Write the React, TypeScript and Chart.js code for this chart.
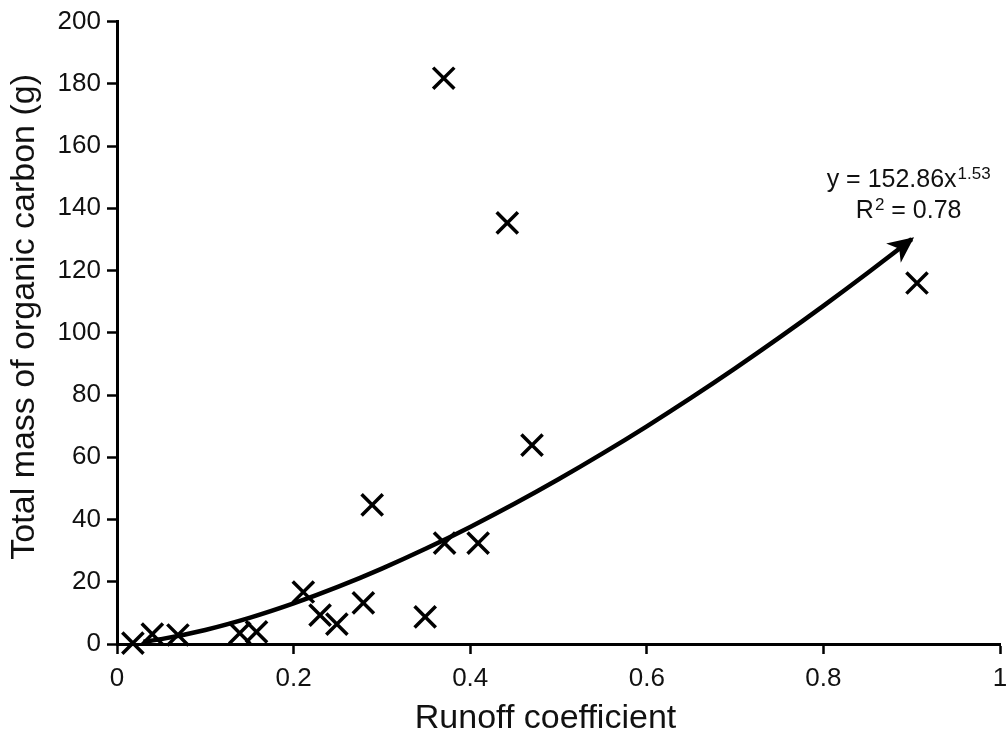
import React, { useEffect, useRef } from "react";
import { Chart, registerables } from "chart.js";

Chart.register(...registerables);

// Observed points: runoff coefficient vs total mass of organic carbon (g)
const runoffCoefficient = [0.018, 0.04, 0.069, 0.139, 0.158, 0.211, 0.23, 0.249, 0.279, 0.289, 0.349, 0.371, 0.409, 0.47, 0.37, 0.442, 0.906];
const organicCarbon = [0.3, 3.2, 2.9, 3.5, 3.9, 16.7, 9.3, 6.4, 13.2, 44.7, 8.7, 32.4, 32.4, 63.9, 181.8, 135.3, 116];

// Power-law fit curve y = 152.86 x^1.53
const fitX = [0.03, 0.05, 0.1, 0.15, 0.2, 0.25, 0.3, 0.35, 0.4, 0.45, 0.5, 0.55, 0.6, 0.65, 0.7, 0.75, 0.8, 0.85, 0.9];
const fitY = [0.72, 1.56, 4.51, 8.39, 13.03, 18.33, 24.23, 30.67, 37.63, 45.05, 52.93, 61.24, 69.96, 79.08, 88.57, 98.43, 108.65, 119.21, 130.1];

const xTickLabels = ["0", "0.2", "0.4", "0.6", "0.8", "1"];
const xTitle = "Runoff coefficient";
const yTitle = "Total mass of organic carbon (g)";
const eqMain = "y = 152.86x";
const eqExp = "1.53";
const r2Main = "R";
const r2Exp = "2";
const r2Rest = " = 0.78";

const FONT = "'Liberation Sans', Arial, sans-serif";
const INK = "#111";

const overlayPlugin = {
  id: "overlay",
  afterDatasetsDraw(chart: any) {
    const { ctx, chartArea, scales } = chart;
    const xs = scales.x;
    const ys = scales.y;
    ctx.save();

    // Arrowhead at the end of the fit curve
    const n = fitX.length;
    const px1 = xs.getPixelForValue(fitX[n - 2]);
    const py1 = ys.getPixelForValue(fitY[n - 2]);
    const px2 = xs.getPixelForValue(fitX[n - 1]);
    const py2 = ys.getPixelForValue(fitY[n - 1]);
    const ang = Math.atan2(py2 - py1, px2 - px1);
    const tipX = px2 + Math.cos(ang) * 3;
    const tipY = py2 + Math.sin(ang) * 3;
    const len = 26;
    const half = 12;
    const bx = tipX - Math.cos(ang) * len;
    const by = tipY - Math.sin(ang) * len;
    ctx.fillStyle = "#000";
    ctx.beginPath();
    ctx.moveTo(tipX, tipY);
    ctx.lineTo(bx + Math.sin(ang) * half, by - Math.cos(ang) * half);
    ctx.lineTo(tipX - Math.cos(ang) * len * 0.72, tipY - Math.sin(ang) * len * 0.72);
    ctx.lineTo(bx - Math.sin(ang) * half, by + Math.cos(ang) * half);
    ctx.closePath();
    ctx.fill();

    // Equation annotation
    ctx.fillStyle = INK;
    ctx.textBaseline = "alphabetic";
    ctx.textAlign = "left";
    const cx = xs.getPixelForValue(0.896);
    const mainFont = `25px ${FONT}`;
    const supFont = `17px ${FONT}`;
    ctx.font = mainFont;
    const w1 = ctx.measureText(eqMain).width;
    ctx.font = supFont;
    const w1s = ctx.measureText(eqExp).width;
    const b1 = ys.getPixelForValue(146.8);
    let x0 = cx - (w1 + w1s) / 2;
    ctx.font = mainFont;
    ctx.fillText(eqMain, x0, b1);
    ctx.font = supFont;
    ctx.fillText(eqExp, x0 + w1 + 1, b1 - 8);

    ctx.font = mainFont;
    const wr = ctx.measureText(r2Main).width;
    const wrr = ctx.measureText(r2Rest).width;
    ctx.font = supFont;
    const wrs = ctx.measureText(r2Exp).width;
    const b2 = ys.getPixelForValue(136.9);
    x0 = cx - (wr + wrs + wrr) / 2;
    ctx.font = mainFont;
    ctx.fillText(r2Main, x0, b2);
    ctx.font = supFont;
    ctx.fillText(r2Exp, x0 + wr + 1, b2 - 8);
    ctx.font = mainFont;
    ctx.fillText(r2Rest, x0 + wr + wrs + 1, b2);

    // Axis titles
    ctx.font = `34px ${FONT}`;
    ctx.textAlign = "center";
    ctx.textBaseline = "middle";
    const midX = (chartArea.left + chartArea.right) / 2 - 13;
    ctx.fillText(xTitle, midX, 719);
    const midY = (chartArea.top + chartArea.bottom) / 2 - 16;
    ctx.translate(25, midY);
    ctx.rotate(-Math.PI / 2);
    ctx.fillText(yTitle, 0, 0);
    ctx.restore();
  },
};

export default function App() {
  const canvasRef = useRef<HTMLCanvasElement | null>(null);

  useEffect(() => {
    const canvas = canvasRef.current;
    if (!canvas) return;
    const tickFont = { family: FONT, size: 26 };
    const chart = new Chart(canvas, {
      type: "scatter",
      data: {
        datasets: [
          {
            label: "Observed",
            data: runoffCoefficient.map((x, i) => ({ x, y: organicCarbon[i] })),
            pointStyle: "crossRot",
            pointRadius: 15,
            pointHoverRadius: 15,
            pointBorderWidth: 3.5,
            pointBorderColor: "#000",
            pointBackgroundColor: "#000",
            showLine: false,
            clip: false,
          },
          {
            label: "Fit",
            type: "line",
            data: fitX.map((x, i) => ({ x, y: fitY[i] })),
            borderColor: "#000",
            borderWidth: 4.5,
            pointRadius: 0,
            cubicInterpolationMode: "monotone",
            fill: false,
          },
        ],
      },
      options: {
        responsive: false,
        animation: false,
        devicePixelRatio: 1,
        layout: { autoPadding: false, padding: { top: 21, right: 8, left: 0, bottom: 0 } },
        plugins: { legend: { display: false }, tooltip: { enabled: false } },
        scales: {
          x: {
            type: "linear",
            min: 0,
            max: 1,
            ticks: {
              stepSize: 0.2,
              font: tickFont,
              color: INK,
              padding: 9,
              maxRotation: 0,
              callback: (_v: any, i: number) => xTickLabels[i],
            },
            grid: { display: true, drawOnChartArea: false, drawTicks: true, tickLength: 10, tickWidth: 2.5, tickColor: "#000" },
            border: { display: true, color: "#000", width: 3 },
            afterFit: (s: any) => { s.height = 96; s.paddingLeft = 0; s.paddingRight = 0; },
          },
          y: {
            type: "linear",
            min: 0,
            max: 200,
            ticks: { stepSize: 20, font: tickFont, color: INK, padding: 6 },
            grid: { display: true, drawOnChartArea: false, drawTicks: true, tickLength: 10, tickWidth: 2.5, tickColor: "#000" },
            border: { display: true, color: "#000", width: 3 },
            afterFit: (s: any) => { s.width = 117; },
          },
        },
      } as any,
      plugins: [overlayPlugin],
    });
    return () => chart.destroy();
  }, []);

  return (
    <div style={{ position: "absolute", left: 0, top: 0, width: 1008, height: 740, background: "#fff" }}>
      <canvas ref={canvasRef} width={1008} height={740} style={{ display: "block", width: 1008, height: 740 }} />
    </div>
  );
}
